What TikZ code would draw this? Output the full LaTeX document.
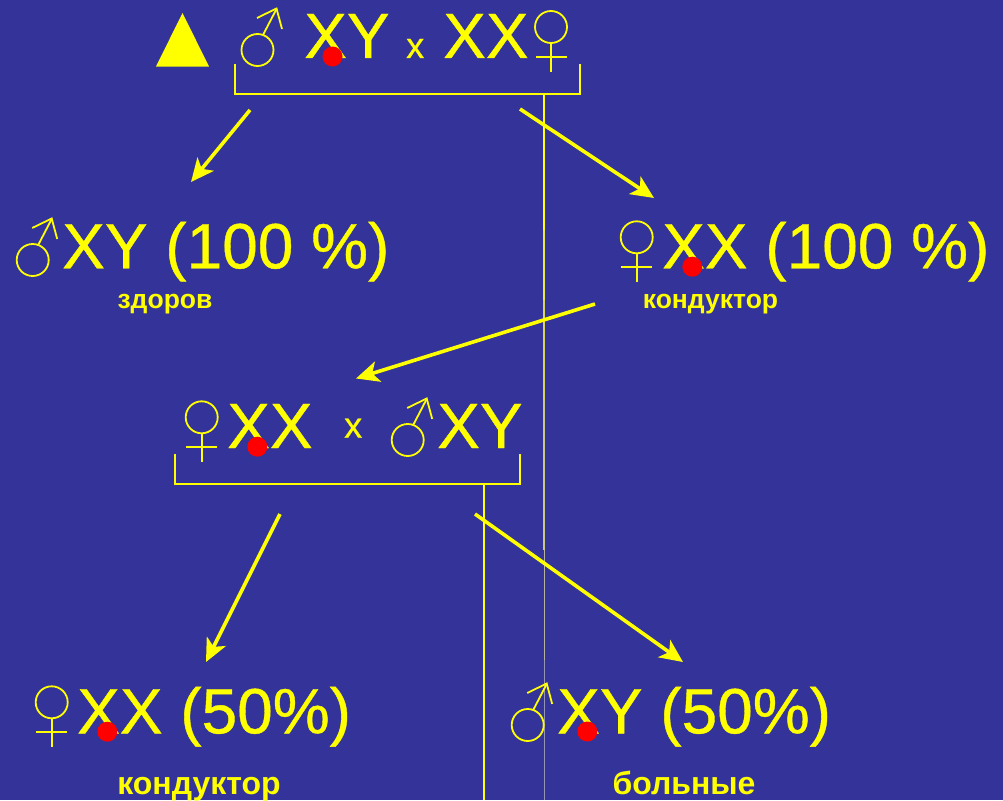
\documentclass[tikz,border=0pt]{standalone}
\usepackage{fontspec}
\setmainfont{Liberation Sans}
\usetikzlibrary{arrows.meta}
\definecolor{bgblue}{HTML}{333399}
\definecolor{ye}{HTML}{FFFF00}
\definecolor{paleA}{HTML}{E8E840}
\definecolor{paleB}{HTML}{D4D45C}
\definecolor{paleC}{HTML}{C8C880}
\definecolor{paleD}{HTML}{B4B49C}
\definecolor{paleE}{HTML}{9494B4}
\tikzset{
  x=1pt,y=-1pt,
  big/.style={text=ye,inner sep=0pt,anchor=base west,font=\fontsize{64}{70}\selectfont\addfontfeature{FakeBold=0.6}},
  small/.style={text=ye,inner sep=0pt,anchor=base west,font=\fontsize{36}{40}\selectfont\addfontfeature{FakeBold=0.6}},
  lab/.style={text=ye,inner sep=0pt,anchor=base,font=\bfseries\fontsize{26.5}{28}\selectfont},
  labbig/.style={text=ye,inner sep=0pt,anchor=base,font=\bfseries\fontsize{32}{34}\selectfont},
  dot/.style={circle,fill=red,inner sep=0pt,minimum size=20pt},
  bracket/.style={draw=ye,line width=2pt,line cap=butt,line join=miter},
  stem/.style={draw=ye,line width=2pt},
  arr/.style={draw=ye,line width=3.6pt,-{Stealth[length=23pt,width=21pt,inset=6pt]}},
  pics/male/.style={code={
    \draw[ye,line width=1.8pt] (0,0) circle[radius=16];
    \draw[ye,line width=1.8pt] (5.5,-15) -- (19,-41);
    \draw[ye,line width=1.8pt,line join=miter] (-0.5,-32) -- (19,-41.5) -- (24.5,-21);
  }},
  pics/female/.style={code={
    \draw[ye,line width=1.8pt] (0,0) circle[radius=16];
    \draw[ye,line width=1.8pt] (0,16) -- (0,45);
    \draw[ye,line width=1.8pt] (-15.5,30) -- (15.5,30);
  }},
}
\begin{document}
\begin{tikzpicture}
\fill[bgblue] (0,0) rectangle (1003,800);
\useasboundingbox (0,0) rectangle (1003,800);
% vertical line that fades downwards
\coordinate (v1a) at (544,94);
\coordinate (v1b) at (544,230);
\coordinate (v1c) at (544,300);
\coordinate (v1d) at (544,400);
\coordinate (v1e) at (544,550);
\coordinate (v1f) at (544,660);
\coordinate (v1g) at (544,800);
\draw[stem] (v1a) -- (v1b);
\draw[draw=paleA,line width=1.6pt] (v1b) -- (v1c);
\draw[draw=paleB,line width=1.3pt] (v1c) -- (v1d);
\draw[draw=paleC,line width=1.1pt] (v1d) -- (v1e);
\draw[draw=paleD,line width=1pt] (v1e) -- (v1f);
\draw[draw=paleE,line width=1pt] (v1f) -- (v1g);
% top row
\fill[ye] (156,66.5) -- (182.5,13) -- (209,66.5) -- cycle;
\pic at (257.5,50) {male};
\node[big] (p1) at (304,58) {XY};
\node[small] (c1) at (406,58) {x};
\node[big] (p2) at (443,58) {XX};
\pic at (551,27) {female};
\node[dot] (d1) at (332.5,56.5) {};
\coordinate (b1a) at (235,64);
\coordinate (b1b) at (235,94);
\coordinate (b1c) at (580,94);
\coordinate (b1d) at (580,64);
\draw[bracket] (b1a) -- (b1b) -- (b1c) -- (b1d);
% F1
\pic at (32.7,260) {male};
\node[big] (f1a) at (62,268.3) {XY (100 \%)};
\node[lab] (l1) at (165,308) {здоров};
\pic at (636.7,237.3) {female};
\node[big] (f1b) at (662,268.3) {XX (100 \%)};
\node[dot] (d2) at (692.3,266.7) {};
\node[lab] (l2) at (710.5,308) {кондуктор};
% second cross
\pic at (201.7,417.3) {female};
\node[big] (p3) at (227,448) {XX};
\node[dot] (d3) at (257.3,446.7) {};
\node[small] (c2) at (344,437.7) {x};
\pic at (407.7,440) {male};
\node[big] (p4) at (437,448) {XY};
\coordinate (b2a) at (175,454);
\coordinate (b2b) at (175,484);
\coordinate (b2c) at (520,484);
\coordinate (b2d) at (520,454);
\draw[bracket] (b2a) -- (b2b) -- (b2c) -- (b2d);
\coordinate (v2a) at (484,484);
\coordinate (v2b) at (484,800);
\draw[stem] (v2a) -- (v2b);
% F2
\pic at (51.7,702.3) {female};
\node[big] (f2a) at (77,733.3) {XX (50\%)};
\node[dot] (d4) at (107.3,731.7) {};
\node[labbig] (l3) at (199,794) {кондуктор};
\pic at (527.7,725) {male};
\node[big] (f2b) at (557,733.3) {XY (50\%)};
\node[dot] (d5) at (587.3,731.5) {};
\node[labbig] (l4) at (684,794) {больные};
% arrows
\coordinate (a1s) at (250,110);
\coordinate (a1e) at (191,182);
\coordinate (a2s) at (520,109);
\coordinate (a2e) at (654,198);
\coordinate (a3s) at (595,304);
\coordinate (a3e) at (356,378.5);
\coordinate (a4s) at (280,514);
\coordinate (a4e) at (206,662);
\coordinate (a5s) at (475,514);
\coordinate (a5e) at (683,662);
\draw[arr] (a1s) -- (a1e);
\draw[arr] (a2s) -- (a2e);
\draw[arr] (a3s) -- (a3e);
\draw[arr] (a4s) -- (a4e);
\draw[arr] (a5s) -- (a5e);
\end{tikzpicture}
\end{document}
